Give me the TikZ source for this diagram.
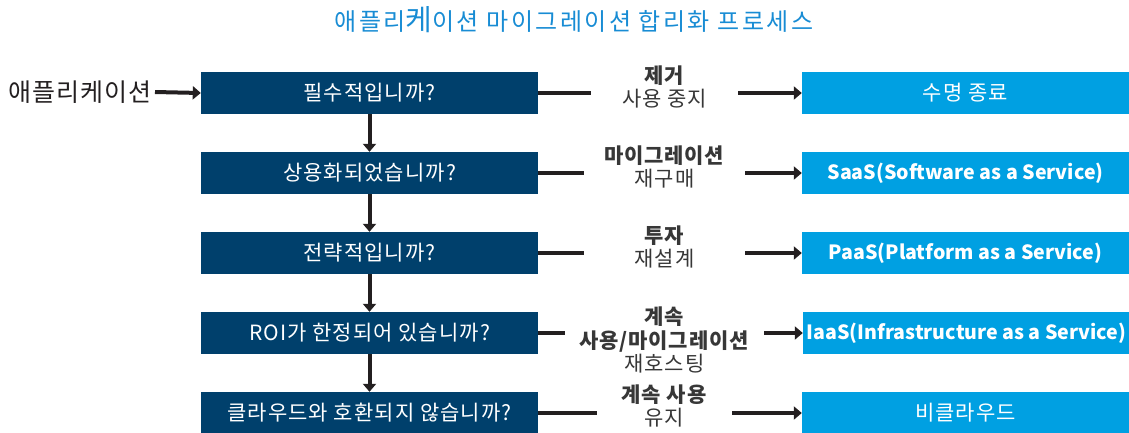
\documentclass[tikz,border=0pt]{standalone}
\usepackage{fontspec}
\setmainfont{Noto Sans CJK KR}
\usetikzlibrary{arrows.meta}
\definecolor{darkbox}{RGB}{0,64,108}
\definecolor{lightbox}{RGB}{0,160,226}
\definecolor{titleblue}{RGB}{24,140,212}
\definecolor{arrowc}{RGB}{35,31,32}
\definecolor{textgray}{RGB}{55,55,55}
\newcommand{\spaced}[1]{\addfontfeatures{LetterSpace=#1}}
\tikzset{
  qbox/.style={rectangle, fill=darkbox, text=white, minimum width=337pt, minimum height=42pt, inner sep=0pt, font=\fontsize{21}{24}\selectfont\spaced{5}},
  rbox/.style={rectangle, fill=lightbox, text=white, minimum width=327pt, minimum height=42pt, inner sep=0pt, font=\bfseries\fontsize{19.6}{24}\selectfont},
  rboxk/.style={rbox, font=\mdseries\fontsize{21}{24}\selectfont\spaced{5}},
  mlabel/.style={inner sep=0pt, align=center, text=textgray, font=\fontsize{21}{23.8}\selectfont\spaced{4}},
  conn/.style={draw=arrowc, line width=4pt},
  arr/.style={conn, -{Triangle[length=8pt,width=13pt]}},
}
\begin{document}
\begin{tikzpicture}[x=1pt,y=-1pt]
\useasboundingbox (0,0) rectangle (1129,432);
\node[text=titleblue, font=\fontsize{24}{28}\selectfont\spaced{10}] (title) at (574,20) {애플리{\fontsize{29}{28}\selectfont 케}이션 마이그레이션 합리화 프로세스};
\node[anchor=east, inner sep=3pt, font=\fontsize{25}{28}\selectfont\spaced{4}, text=arrowc] (app) at (155,92) {애플리케이션};

\node[qbox] (q1) at (369.5,93) {필수적입니까?};
\node[qbox] (q2) at (369.5,173) {상용화되었습니까?};
\node[qbox] (q3) at (369.5,253) {전략적입니까?};
\node[qbox] (q4) at (369.5,333) {ROI가 한정되어 있습니까?};
\node[qbox] (q5) at (369.5,413) {클라우드와 호환되지 않습니까?};

\node[rboxk] (r1) at (965.5,93) {수명 종료};
\node[rbox] (r2) at (965.5,173) {SaaS(Software as a Service)};
\node[rbox] (r3) at (965.5,253) {PaaS(Platform as a Service)};
\node[rbox] (r4) at (966.5,333) {IaaS(Infrastructure as a Service)};
\node[rboxk] (r5) at (965.5,413) {비클라우드};

\node[mlabel, minimum width=147pt] (m1) at (664.5,87) {\textbf{제거}\\사용 중지};
\node[mlabel, minimum width=161pt] (m2) at (664.5,167) {\textbf{마이그레이션}\\재구매};
\node[mlabel, minimum width=161pt] (m3) at (664.5,247) {\textbf{투자}\\재설계};
\node[mlabel, minimum width=199pt] (m4) at (664.5,340) {\textbf{계속}\\\textbf{사용/마이그레이션}\\재호스팅};
\node[mlabel, minimum width=135pt] (m5) at (664.5,406) {\textbf{계속 사용}\\유지};

\draw[arr] (app.east) -- (q1.west);
\draw[arr] (q1.south) -- (q2.north);
\draw[arr] (q2.south) -- (q3.north);
\draw[arr] (q3.south) -- (q4.north);
\draw[arr] (q4.south) -- (q5.north);

\foreach \i in {1,...,5}{
  \draw[conn] (q\i.east) -- (q\i.east -| m\i.west);
  \draw[arr] (m\i.east |- r\i.west) -- (r\i.west);
}
\end{tikzpicture}
\end{document}
